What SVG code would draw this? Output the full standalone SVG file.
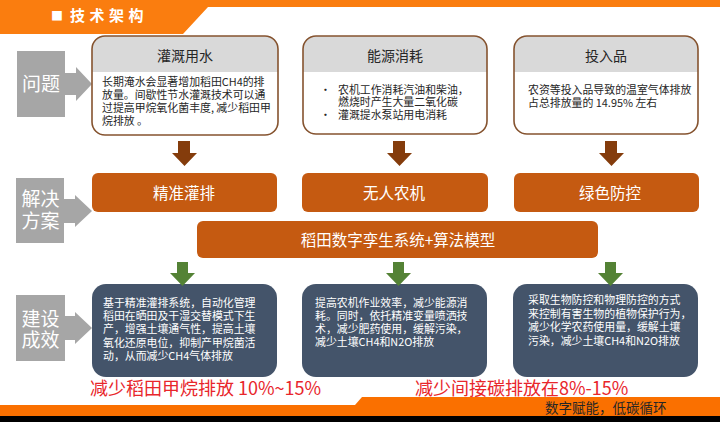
<svg xmlns="http://www.w3.org/2000/svg" width="720" height="422" viewBox="0 0 720 422">
<style>
text{font-family:"Noto Sans CJK SC","Noto Sans",sans-serif;}
.hdr{fill:#d9d9d9;}
.box{fill:none;stroke:#85532f;stroke-width:1.6;}
.ttl{font-size:14px;fill:#262626;text-anchor:middle;}
.body{font-size:10.9px;fill:#262626;}
.sol{fill:#c55a11;}
.solt{font-size:15.5px;fill:#ffffff;text-anchor:middle;}
.res{fill:#44546a;}
.rest{font-size:10.9px;fill:#ffffff;}
.lbl{fill:#a6a6a6;}
.lblt{font-size:19px;fill:#ffffff;text-anchor:middle;}
.red{font-size:18px;fill:#e8262b;}
.ab{fill:#843c0c;}
.ag{fill:#548235;}
</style>

<!-- header band -->
<polygon points="0,0 720,0 720,7 208,7 183,34 0,34" fill="#fa7d0f"/>
<text x="51" y="20.5" font-size="12" font-weight="bold" fill="#ffffff">■</text>
<text x="70" y="20.5" font-size="15" font-weight="bold" letter-spacing="4.5" fill="#ffffff">技术架构</text>

<!-- left labels -->
<g id="label-wenti">
<path class="lbl" d="M17,51 H65 V73 H76 V67 L92,84 L76,101 V95 H65 V117 H17 Z"/>
<text class="lblt" x="41" y="91">问题</text>
</g>
<g id="label-fangan">
<path class="lbl" d="M16,178 H64 V199 H75 V195 L92,211 L75,227 V223 H64 V243 H16 Z"/>
<text class="lblt" x="40.5" y="206">解决<tspan x="40.5" dy="22">方案</tspan></text>
</g>
<g id="label-chengxiao">
<path class="lbl" d="M16,295 H65 V316 H75 V312 L92,328 L75,344 V340 H65 V361 H16 Z"/>
<text class="lblt" x="40.5" y="326">建设<tspan x="40.5" dy="20.5">成效</tspan></text>
</g>

<!-- problem boxes -->
<g id="problem-water">
<path class="hdr" d="M92,72 V49 A13,13 0 0 1 105,36 H265 A13,13 0 0 1 278,49 V72 Z"/>
<rect class="box" x="92" y="36" width="186" height="99" rx="13"/>
<text class="ttl" x="185" y="60.5">灌溉用水</text>
<text class="body" x="102" y="86">长期淹水会显著增加稻田CH4的排<tspan x="102" dy="13">放量。间歇性节水灌溉技术可以通</tspan><tspan x="102" dy="13">过提高甲烷氧化菌丰度, 减少稻田甲</tspan><tspan x="102" dy="13">烷排放 。</tspan></text>
</g>
<g id="problem-energy">
<path class="hdr" d="M303,72 V49 A13,13 0 0 1 316,36 H474 A13,13 0 0 1 487,49 V72 Z"/>
<rect class="box" x="303" y="36" width="184" height="98" rx="13"/>
<text class="ttl" x="395" y="61">能源消耗</text>
<text class="body" x="320" y="94">•<tspan x="320" dy="25">•</tspan></text>
<text class="body" x="338" y="94">农机工作消耗汽油和柴油，<tspan x="338" dy="11.5">燃烧时产生大量二氧化碳</tspan><tspan x="338" dy="13.5">灌溉提水泵站用电消耗</tspan></text>
</g>
<g id="problem-input">
<path class="hdr" d="M514,72 V49 A13,13 0 0 1 527,36 H685 A13,13 0 0 1 698,49 V72 Z"/>
<rect class="box" x="514" y="36" width="184" height="98" rx="13"/>
<text class="ttl" x="606" y="61">投入品</text>
<text class="body" x="528" y="94">农资等投入品导致的温室气体排放<tspan x="528" dy="13">占总排放量的 14.95% 左右</tspan></text>
</g>

<!-- solution boxes -->
<g id="sol-irrigation">
<rect class="sol" x="92" y="173" width="185" height="39" rx="6"/>
<text class="solt" x="184" y="199">精准灌排</text>
</g>
<g id="sol-uav">
<rect class="sol" x="302" y="173" width="186" height="39" rx="6"/>
<text class="solt" x="394" y="199">无人农机</text>
</g>
<g id="sol-green">
<rect class="sol" x="514" y="173" width="185" height="39" rx="6"/>
<text class="solt" x="610" y="199">绿色防控</text>
</g>
<g id="sol-twin">
<rect class="sol" x="197" y="221" width="401" height="37" rx="6"/>
<text class="solt" x="398" y="246">稻田数字孪生系统+算法模型</text>
</g>

<!-- result boxes -->
<g id="res-irrigation">
<rect class="res" x="92" y="284" width="185" height="93" rx="14"/>
<text class="rest" x="103" y="307">基于精准灌排系统，自动化管理<tspan x="103" dy="13.2">稻田在晒田及干湿交替模式下生</tspan><tspan x="103" dy="13.2">产，增强土壤通气性，提高土壤</tspan><tspan x="103" dy="13.2">氧化还原电位，抑制产甲烷菌活</tspan><tspan x="103" dy="13.2">动，从而减少CH4气体排放</tspan></text>
</g>
<g id="res-uav">
<rect class="res" x="302" y="284" width="185" height="93" rx="14"/>
<text class="rest" x="315" y="307">提高农机作业效率，减少能源消<tspan x="315" dy="13">耗。同时，依托精准变量喷洒技</tspan><tspan x="315" dy="13">术，减少肥药使用，缓解污染，</tspan><tspan x="315" dy="13">减少土壤CH4和N2O排放</tspan></text>
</g>
<g id="res-green">
<rect class="res" x="513" y="284" width="185" height="93" rx="14"/>
<text class="rest" x="528" y="304">采取生物防控和物理防控的方式<tspan x="528" dy="13.7">来控制有害生物的植物保护行为，</tspan><tspan x="528" dy="13.6">减少化学农药使用量，缓解土壤</tspan><tspan x="528" dy="13.7">污染，减少土壤CH4和N2O排放</tspan></text>
</g>

<!-- connectors -->
<g id="connectors">
<path class="ab" d="M178,141 H190 V153 H197 L184.5,166 L172,153 H178 Z"/>
<path class="ab" d="M393,141 H405 V153 H412 L399.5,166 L387,153 H393 Z"/>
<path class="ab" d="M605,141 H617 V153 H624 L611.5,166 L599,153 H605 Z"/>
<path class="ag" d="M177,262 H188 V273 H195 L182.5,286 L170,273 H177 Z"/>
<path class="ag" d="M393,262 H404 V273 H411 L398.5,286 L386,273 H393 Z"/>
<path class="ag" d="M605,262 H616 V273 H623 L610.5,286 L598,273 H605 Z"/>
</g>

<!-- outcome texts -->
<text class="red" x="90" y="395">减少稻田甲烷排放 10%~15%</text>
<text class="red" x="415" y="394.5" font-size="17">减少间接碳排放在8%-15%</text>

<!-- footer band -->
<polygon points="0,405 355,405 362,397 720,397 720,416 0,416" fill="#fa7000"/>
<rect x="0" y="416" width="720" height="6" fill="#000000"/>
<text x="545" y="413" font-size="13.5" fill="#262626">数字赋能，低碳循环</text>
</svg>
